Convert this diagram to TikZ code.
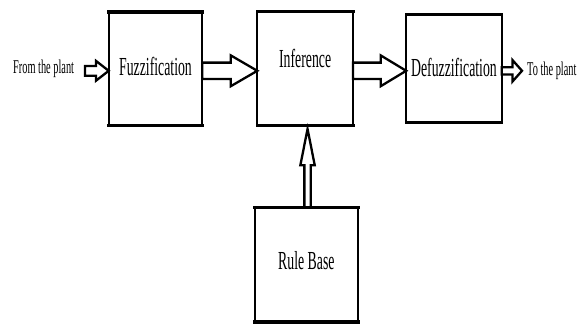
\documentclass[tikz,border=0pt]{standalone}
\usepackage{fontspec}
\setmainfont{Liberation Serif}[FakeStretch=0.53]
\usetikzlibrary{calc}

\tikzset{
  box/.style={draw=black, line width=2.2pt, rectangle, inner sep=0pt, outer sep=0pt, fill=white},
  edge/.style={line width=3.3pt, line cap=rect},
  boxtext/.style={inner sep=0pt, anchor=base, font=\fontsize{26}{31}\selectfont},
  sidetext/.style={inner sep=0pt, font=\fontsize{19.5}{23}\selectfont},
  blockarrow/.style={draw=black, line width=2.3pt, line join=miter}
}

% horizontal hollow block arrow: tail, tip, shaft half-width, head half-width, head length
\newcommand\blockright[5]{%
  \draw[blockarrow] let \p1=#1, \p2=#2 in
    (\x1,\y1+#3) -- (\x2-#5,\y1+#3) -- (\x2-#5,\y1+#4) -- (\x2,\y1)
    -- (\x2-#5,\y1-#4) -- (\x2-#5,\y1-#3) -- (\x1,\y1-#3) -- cycle;}

% vertical hollow block arrow pointing up: tail, tip, shaft half-width, head half-width, head length
\newcommand\blockup[5]{%
  \draw[blockarrow] let \p1=#1, \p2=#2 in
    (\x1-#3,\y1) -- (\x1-#3,\y2-#5) -- (\x1-#4,\y2-#5) -- (\x1,\y2)
    -- (\x1+#4,\y2-#5) -- (\x1+#3,\y2-#5) -- (\x1+#3,\y1) -- cycle;}

% heavier top and bottom edges of a block
\newcommand\heavyedges[1]{%
  \draw[edge] (#1.north west) -- (#1.north east);
  \draw[edge] (#1.south west) -- (#1.south east);}

\begin{document}
\begin{tikzpicture}[x=1pt, y=-1pt]
  \useasboundingbox[fill=white] (0,0) rectangle (583,327);

  % blocks
  \node[box, minimum width=93.6pt, minimum height=113.3pt] (fuzz) at (155.5,68.65) {};
  \node[box, minimum width=95.7pt, minimum height=114pt] (inf) at (305.15,68.3) {};
  \node[box, minimum width=95.5pt, minimum height=108pt] (defuzz) at (453.95,68.3) {};
  \node[box, minimum width=103.3pt, minimum height=114.3pt] (rule) at (306.35,264.85) {};
  \heavyedges{fuzz}
  \heavyedges{inf}
  \heavyedges{defuzz}
  \heavyedges{rule}

  % block titles
  \node[boxtext] (fuzzlabel) at ($(fuzz.center)+(0,6.35)$) {Fuzzification};
  \node[boxtext] (inflabel) at ($(inf.center)+(0,-0.6)$) {Inference};
  \node[boxtext] (defuzzlabel) at ($(defuzz.center)+(0,7.7)$) {Defuzzification};
  \node[boxtext] (rulelabel) at ($(rule.center)+(0,4.15)$) {Rule Base};

  % plant signals
  \node[sidetext, anchor=base west] (from) at (13,73.3) {From the plant};
  \node[sidetext, anchor=base west] (to) at (527,75) {To the plant};

  % connectors
  \coordinate (row) at (0,70.8);
  \coordinate (inpt) at (85,70.8);
  \coordinate (outpt) at (522,70.8);
  \blockright{(inpt)}{(fuzz.west |- row)}{4.9pt}{9.9pt}{12.7pt}
  \blockright{(fuzz.east |- row)}{(inf.west |- row)}{8.2pt}{15.4pt}{26.5pt}
  \blockright{(inf.east |- row)}{(defuzz.west |- row)}{8.2pt}{15.4pt}{25.5pt}
  \blockright{(defuzz.east |- row)}{(outpt)}{3.6pt}{10.7pt}{9.5pt}
  \blockup{($(rule.north)+(1.2,0)$)}{($(inf.south)+(0,3.6)$)}{3.2pt}{7.2pt}{36.4pt}
\end{tikzpicture}
\end{document}
